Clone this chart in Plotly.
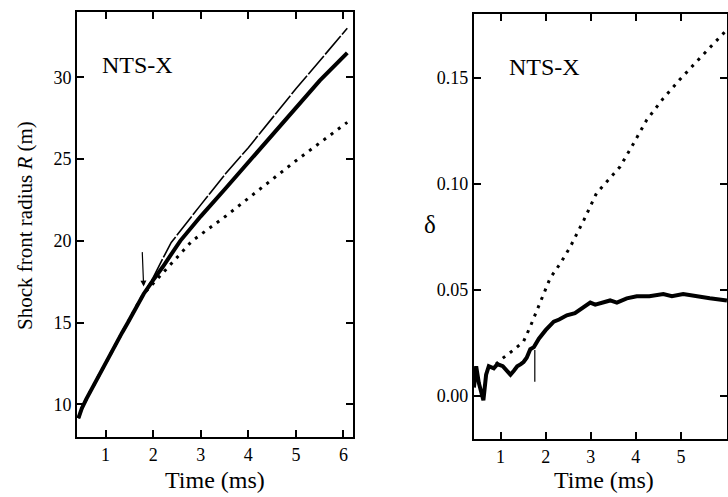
import plotly.graph_objects as go

# ---------------- data (left panel: shock front radius) ----------------
t_common = [0.43, 0.5, 0.6, 0.7, 0.81, 0.9, 1.0, 1.1, 1.23, 1.35, 1.47, 1.55, 1.65, 1.8]
R_common = [9.15, 9.75, 10.35, 10.9, 11.47, 11.95, 12.5, 13.05, 13.75, 14.4, 15.0, 15.45, 16.0, 16.75]

t_thick = [2.0, 2.2, 2.57, 3.0, 3.52, 4.0, 4.5, 5.0, 5.5, 6.08]
R_thick = [17.6, 18.4, 20.0, 21.5, 23.2, 24.8, 26.5, 28.1, 29.8, 31.5]

t_thin = [2.0, 2.2, 2.38, 3.0, 3.52, 4.0, 5.0, 6.08]
R_thin = [17.75, 18.9, 19.9, 22.2, 24.1, 25.7, 29.3, 33.0]

t_dot = [2.0, 2.4, 2.82, 3.52, 4.0, 5.0, 6.08]
R_dot = [17.4, 18.7, 20.0, 21.5, 22.6, 24.9, 27.25]

arrow_left_t = [1.77, 1.8]      # tail, head
arrow_left_R = [19.4, 17.2]

# ---------------- data (right panel: delta) ----------------
t_delta = [0.41, 0.46, 0.52, 0.57, 0.62, 0.68, 0.74, 0.85, 0.93, 1.05, 1.15, 1.22, 1.3, 1.37,
           1.45, 1.51, 1.58, 1.66, 1.74, 1.85, 2.0, 2.18, 2.3, 2.47, 2.65, 2.84, 2.99, 3.1,
           3.25, 3.43, 3.58, 3.8, 4.02, 4.3, 4.61, 4.8, 5.05, 5.3, 5.64, 6.02]
delta = [0.004, 0.014, 0.006, 0.001, -0.002, 0.010, 0.014, 0.013, 0.015, 0.014, 0.012, 0.010,
         0.012, 0.014, 0.015, 0.016, 0.018, 0.022, 0.023, 0.027, 0.031, 0.035, 0.036, 0.038,
         0.039, 0.042, 0.044, 0.043, 0.044, 0.045, 0.044, 0.046, 0.047, 0.047, 0.048, 0.047,
         0.048, 0.047, 0.046, 0.045]

t_delta_dot = [0.9, 1.0, 1.29, 1.51, 1.66, 1.88, 2.1, 2.33, 2.55, 2.85, 3.13, 3.4, 3.65, 3.95,
               4.24, 4.6, 4.97, 5.5, 6.02]
delta_dot = [0.015, 0.017, 0.0217, 0.0256, 0.0327, 0.0445, 0.0555, 0.0626, 0.0704, 0.083,
             0.0956, 0.102, 0.108, 0.119, 0.130, 0.140, 0.149, 0.161, 0.1726]

marker_right_t = [1.76, 1.76]
marker_right_d = [0.0067, 0.0217]

x_ticks = [1, 2, 3, 4, 5, 6]
y_ticks_left = [10, 15, 20, 25, 30]
y_ticks_right = [0.00, 0.05, 0.10, 0.15]
y_ticklabels_right = ["0.00", "0.05", "0.10", "0.15"]

FONT = "Liberation Serif"

fig = go.Figure()

# left panel
fig.add_trace(go.Scatter(x=t_common + t_thin, y=R_common + R_thin, mode="lines",
                         line=dict(color="black", width=1.6, dash="24px,2px"),
                         xaxis="x", yaxis="y", showlegend=False))
fig.add_trace(go.Scatter(x=t_common + t_dot, y=R_common + R_dot, mode="lines",
                         line=dict(color="black", width=3, dash="3px,6px"),
                         xaxis="x", yaxis="y", showlegend=False))
fig.add_trace(go.Scatter(x=t_common + t_thick, y=R_common + R_thick, mode="lines",
                         line=dict(color="black", width=4),
                         xaxis="x", yaxis="y", showlegend=False))

# right panel
fig.add_trace(go.Scatter(x=t_delta_dot, y=delta_dot, mode="lines",
                         line=dict(color="black", width=3, dash="3px,6px"),
                         xaxis="x2", yaxis="y2", showlegend=False))
fig.add_trace(go.Scatter(x=t_delta, y=delta, mode="lines",
                         line=dict(color="black", width=4),
                         xaxis="x2", yaxis="y2", showlegend=False))
fig.add_trace(go.Scatter(x=marker_right_t, y=marker_right_d, mode="lines",
                         line=dict(color="black", width=1.2),
                         xaxis="x2", yaxis="y2", showlegend=False))

axis_common = dict(showline=True, linecolor="black", linewidth=2, mirror="ticks",
                   ticks="inside", ticklen=7, tickwidth=1.5, tickcolor="black",
                   showgrid=False, zeroline=False,
                   tickfont=dict(family=FONT, size=18, color="black"))

fig.update_layout(
    width=728, height=497,
    margin=dict(l=0, r=0, t=0, b=0),
    paper_bgcolor="white", plot_bgcolor="white",
    xaxis=dict(domain=[0.1058, 0.4849], range=[0.4, 6.2], tickvals=x_ticks, anchor="y",
               **axis_common),
    yaxis=dict(domain=[0.1207, 0.9759], range=[8, 34], tickvals=y_ticks_left, anchor="x",
               **axis_common),
    xaxis2=dict(domain=[0.651, 0.9985], range=[0.41, 6.02], tickvals=x_ticks, anchor="y2",
                **axis_common),
    yaxis2=dict(domain=[0.1167, 0.9718], range=[-0.0203, 0.18], tickvals=y_ticks_right,
                ticktext=y_ticklabels_right, anchor="x2", **axis_common),
    annotations=[
        dict(text="NTS-X", x=100 / 728, y=1 - 65 / 497, xref="paper", yref="paper",
             xanchor="left", yanchor="middle",
             showarrow=False, font=dict(family=FONT, size=24, color="black")),
        dict(text="NTS-X", x=507 / 728, y=1 - 67 / 497, xref="paper", yref="paper",
             xanchor="left", yanchor="middle",
             showarrow=False, font=dict(family=FONT, size=24, color="black")),
        dict(text="Time (ms)", x=215 / 728, y=1 - 480 / 497, xref="paper", yref="paper",
             xanchor="center", yanchor="middle",
             showarrow=False, font=dict(family=FONT, size=24, color="black")),
        dict(text="Time (ms)", x=604 / 728, y=1 - 480 / 497, xref="paper", yref="paper",
             xanchor="center", yanchor="middle",
             showarrow=False, font=dict(family=FONT, size=24, color="black")),
        dict(text="Shock front radius <i>R</i> (m)", x=25 / 728, y=1 - 226 / 497,
             xref="paper", yref="paper", textangle=-90, showarrow=False,
             xanchor="center", yanchor="middle",
             font=dict(family=FONT, size=21, color="black")),
        dict(text="δ", x=430 / 728, y=1 - 225 / 497, xref="paper", yref="paper",
             xanchor="center", yanchor="middle",
             showarrow=False, font=dict(family=FONT, size=25, color="black")),
        dict(x=arrow_left_t[1], y=arrow_left_R[1], ax=arrow_left_t[0], ay=arrow_left_R[0],
             xref="x", yref="y", axref="x", ayref="y", text="", showarrow=True,
             arrowhead=2, arrowsize=1, arrowwidth=1.2, arrowcolor="black"),
    ],
)

fig.write_html("out.html")
